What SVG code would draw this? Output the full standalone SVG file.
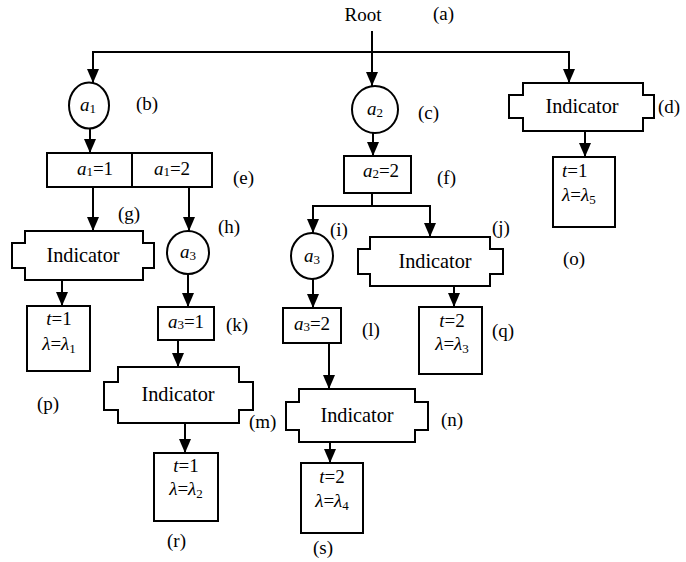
<svg xmlns="http://www.w3.org/2000/svg" width="686" height="562" viewBox="0 0 686 562" font-family="'Liberation Serif', 'Times New Roman', serif">
<style>
text{font-family:"Liberation Serif","Times New Roman",serif;font-size:19px;fill:#000}
.m{text-anchor:middle}
.ind{font-size:20.3px}
.i{font-style:italic}
.s{font-size:13px}
.shape{fill:#fff;stroke:#000;stroke-width:2}
.c{fill:none;stroke:#000;stroke-width:2}
.a{marker-end:url(#ah)}
</style>
<defs>
<marker id="ah" viewBox="0 0 14 12" refX="14" refY="6" markerWidth="14" markerHeight="12" markerUnits="userSpaceOnUse" orient="auto">
<path d="M0,0 L14,6 L0,12 Z" fill="#000"/>
</marker>
</defs>
<rect width="686" height="562" fill="#fff"/>
<g id="connectors">
<line class="c a" x1="372" y1="31" x2="372" y2="86"/>
<line class="c" x1="93" y1="52" x2="569" y2="52"/>
<line class="c a" x1="93" y1="51" x2="93" y2="83"/>
<line class="c a" x1="569" y1="51" x2="569" y2="83"/>
<line class="c a" x1="90" y1="128" x2="90" y2="153"/>
<line class="c a" x1="373" y1="133" x2="373" y2="156"/>
<line class="c a" x1="585" y1="131" x2="585" y2="157"/>
<line class="c a" x1="93" y1="187" x2="93" y2="231"/>
<line class="c a" x1="189" y1="187" x2="189" y2="231"/>
<line class="c a" x1="62" y1="280" x2="62" y2="306"/>
<line class="c a" x1="188" y1="274" x2="188" y2="307"/>
<line class="c a" x1="178" y1="340" x2="178" y2="367"/>
<line class="c a" x1="185" y1="423" x2="185" y2="453"/>
<polyline class="c" points="372,193 372,206"/>
<line class="c" x1="312" y1="206" x2="431" y2="206"/>
<line class="c a" x1="313" y1="205" x2="313" y2="233"/>
<line class="c a" x1="430" y1="205" x2="430" y2="237"/>
<line class="c a" x1="313" y1="279" x2="313" y2="308"/>
<line class="c a" x1="454" y1="286" x2="454" y2="307"/>
<line class="c a" x1="329" y1="343" x2="329" y2="389"/>
<line class="c a" x1="330" y1="442" x2="330" y2="463"/>
</g>
<g id="a">
<text class="m" x="363" y="21">Root</text>
<text x="433" y="20">(a)</text>
</g>
<g id="b">
<ellipse class="shape" cx="89" cy="105.5" rx="20" ry="23"/>
<text class="m" x="88" y="111"><tspan class="i">a</tspan><tspan class="s" dy="2">1</tspan></text>
<text x="136" y="110">(b)</text>
</g>
<g id="c">
<ellipse class="shape" cx="375" cy="109.5" rx="23" ry="23.5"/>
<text class="m" x="375" y="115"><tspan class="i">a</tspan><tspan class="s" dy="2">2</tspan></text>
<text x="418" y="119">(c)</text>
</g>
<g id="d">
<path class="shape" d="M523,83 H643 V95 H654 V118 H643 V131 H523 V118 H509 V95 H523 Z"/>
<text class="m ind" x="582" y="113">Indicator</text>
<text x="658" y="113">(d)</text>
</g>
<g id="e">
<rect class="shape" x="47" y="153" width="165" height="34"/>
<line class="c" x1="132" y1="153" x2="132" y2="187"/>
<text class="m" x="95" y="175"><tspan class="i">a</tspan><tspan class="s" dy="1">1</tspan><tspan dy="-1">=1</tspan></text>
<text class="m" x="172" y="175"><tspan class="i">a</tspan><tspan class="s" dy="1">1</tspan><tspan dy="-1">=2</tspan></text>
<text x="233" y="184">(e)</text>
</g>
<g id="f">
<rect class="shape" x="344" y="156" width="67" height="37"/>
<text class="m" x="381" y="177"><tspan class="i">a</tspan><tspan class="s" dy="1">2</tspan><tspan dy="-1">=2</tspan></text>
<text x="437" y="184">(f)</text>
</g>
<g id="g">
<path class="shape" d="M25,231 H143 V243 H154 V268 H143 V280 H25 V268 H12 V243 H25 Z"/>
<text class="m ind" x="83" y="262">Indicator</text>
<text x="118" y="220">(g)</text>
</g>
<g id="h">
<ellipse class="shape" cx="188" cy="252.5" rx="21" ry="21.5"/>
<text class="m" x="188" y="258"><tspan class="i">a</tspan><tspan class="s" dy="2">3</tspan></text>
<text x="218" y="233">(h)</text>
</g>
<g id="i">
<ellipse class="shape" cx="312" cy="256" rx="21" ry="23"/>
<text class="m" x="312" y="262"><tspan class="i">a</tspan><tspan class="s" dy="2">3</tspan></text>
<rect x="329" y="222" width="19" height="17" fill="#fff"/>
<text x="330" y="236">(i)</text>
</g>
<g id="j">
<path class="shape" d="M370,237 H490 V249 H503 V274 H490 V286 H370 V274 H358 V249 H370 Z"/>
<text class="m ind" x="435" y="268">Indicator</text>
<text x="492" y="234">(j)</text>
</g>
<g id="k">
<rect class="shape" x="158" y="307" width="56" height="33"/>
<text class="m" x="186" y="328"><tspan class="i">a</tspan><tspan class="s" dy="1">3</tspan><tspan dy="-1">=1</tspan></text>
<text x="226" y="331">(k)</text>
</g>
<g id="l">
<rect class="shape" x="283" y="308" width="58" height="35"/>
<text class="m" x="312" y="330"><tspan class="i">a</tspan><tspan class="s" dy="1">3</tspan><tspan dy="-1">=2</tspan></text>
<text x="362" y="336">(l)</text>
</g>
<g id="m">
<path class="shape" d="M118,367 H239 V382 H253 V410 H239 V423 H118 V410 H104 V382 H118 Z"/>
<text class="m ind" x="178" y="401">Indicator</text>
<text x="249" y="428">(m)</text>
</g>
<g id="n">
<path class="shape" d="M299,389 H415 V402 H428 V430 H415 V442 H299 V430 H286 V402 H299 Z"/>
<text class="m ind" x="357" y="422">Indicator</text>
<text x="441" y="426">(n)</text>
</g>
<g id="o">
<rect class="shape" x="553" y="157" width="62" height="70"/>
<text x="562" y="177"><tspan class="i">t</tspan>=1</text>
<text x="562" y="201"><tspan class="i">λ</tspan>=<tspan class="i">λ</tspan><tspan class="s" dy="3">5</tspan></text>
<text x="563" y="265">(o)</text>
</g>
<g id="p">
<rect class="shape" x="27" y="306" width="63" height="65"/>
<text class="m" x="59" y="325"><tspan class="i">t</tspan>=1</text>
<text class="m" x="59" y="350"><tspan class="i">λ</tspan>=<tspan class="i">λ</tspan><tspan class="s" dy="3">1</tspan></text>
<text x="37" y="410">(p)</text>
</g>
<g id="q">
<rect class="shape" x="419" y="307" width="63" height="67"/>
<text class="m" x="452" y="327"><tspan class="i">t</tspan>=2</text>
<text class="m" x="452" y="350"><tspan class="i">λ</tspan>=<tspan class="i">λ</tspan><tspan class="s" dy="3">3</tspan></text>
<text x="492" y="337">(q)</text>
</g>
<g id="r">
<rect class="shape" x="154" y="453" width="64" height="68"/>
<text class="m" x="186" y="472"><tspan class="i">t</tspan>=1</text>
<text class="m" x="186" y="495"><tspan class="i">λ</tspan>=<tspan class="i">λ</tspan><tspan class="s" dy="3">2</tspan></text>
<text x="167" y="547">(r)</text>
</g>
<g id="s">
<rect class="shape" x="301" y="463" width="62" height="70"/>
<text class="m" x="332" y="483"><tspan class="i">t</tspan>=2</text>
<text class="m" x="332" y="507"><tspan class="i">λ</tspan>=<tspan class="i">λ</tspan><tspan class="s" dy="3">4</tspan></text>
<text x="313" y="554">(s)</text>
</g>
</svg>
